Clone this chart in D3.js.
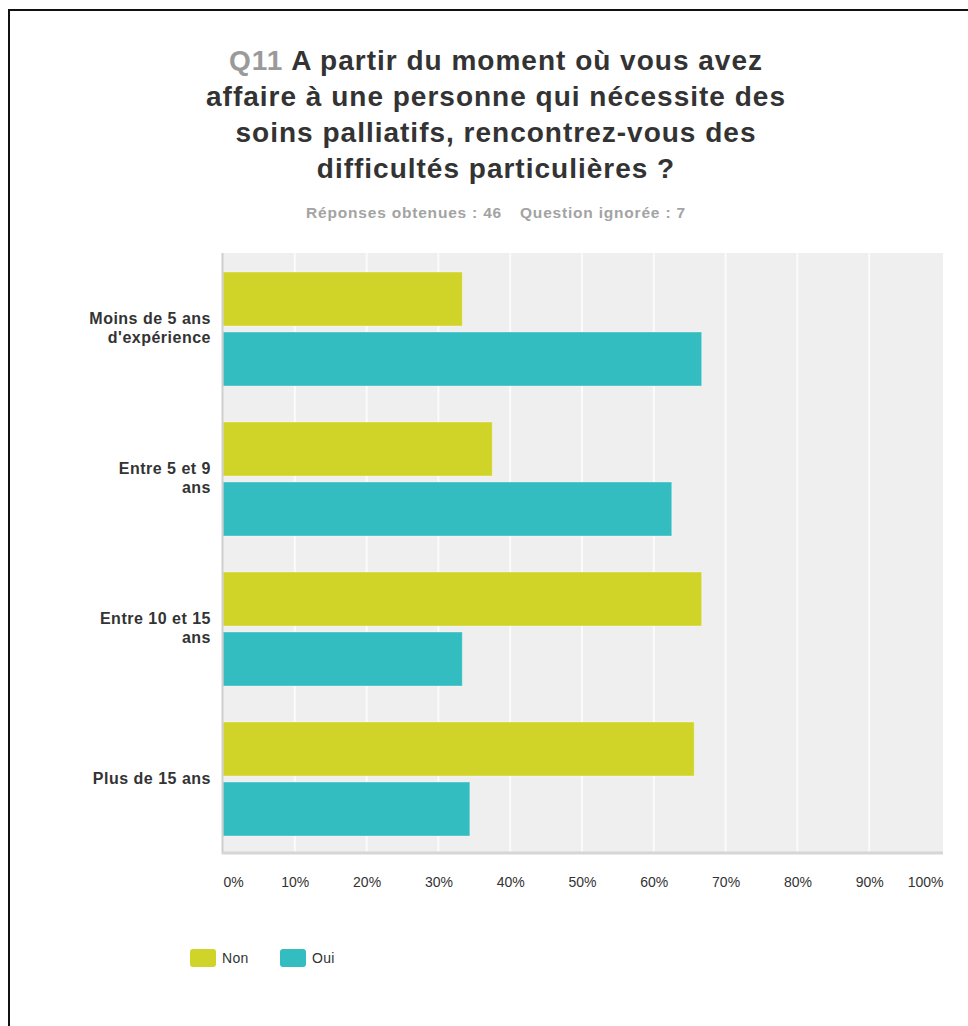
<!DOCTYPE html>
<html>
<head>
<meta charset="utf-8">
<script src="https://cdn.jsdelivr.net/npm/d3@7"></script>
<style>
  html, body { margin: 0; padding: 0; background: #fff; }
  svg { display: block; font-family: "Liberation Sans", Arial, sans-serif; }
</style>
</head>
<body>
<svg id="chart" width="968" height="1026"></svg>
<script>
// Survey results: difficulties met with palliative-care patients, by experience
const categories = [
  ["Moins de 5 ans", "d'expérience"],
  ["Entre 5 et 9", "ans"],
  ["Entre 10 et 15", "ans"],
  ["Plus de 15 ans"]
];
const seriesNames = ["Non", "Oui"];
const nonValues = [33.33, 37.5, 66.67, 65.63];
const ouiValues = [66.67, 62.5, 33.33, 34.38];
const tickValues = [0, 10, 20, 30, 40, 50, 60, 70, 80, 90, 100];
const titleLines = [
  ["Q11", "A partir du moment où vous avez"],
  [null, "affaire à une personne qui nécessite des"],
  [null, "soins palliatifs, rencontrez-vous des"],
  [null, "difficultés particulières ?"]
];
const subtitleParts = ["Réponses obtenues : 46", "Question ignorée : 7"];

const colors = { Non: "#d0d428", Oui: "#33bdc0" };
const FONT = "'Liberation Sans', Arial, sans-serif";

const svg = d3.select("#chart");

// Outer frame
svg.append("rect")
  .attr("x", 9).attr("y", 10)
  .attr("width", 1000).attr("height", 1100)
  .attr("fill", "none").attr("stroke", "#111").attr("stroke-width", 2);

// Title
const title = svg.append("text")
  .attr("text-anchor", "middle")
  .attr("font-family", FONT)
  .attr("font-size", 28)
  .attr("letter-spacing", 1.0)
  .attr("font-weight", "bold")
  .attr("fill", "#333");
titleLines.forEach((ln, i) => {
  const t = title.append("tspan").attr("x", 496).attr("y", 70 + i * 36);
  if (ln[0]) {
    t.append("tspan").attr("fill", "#9a9a9a").text(ln[0] + " ");
  }
  t.append("tspan").text(ln[1]);
});

// Subtitle
const sub = svg.append("text")
  .attr("x", 496).attr("y", 218)
  .attr("text-anchor", "middle")
  .attr("font-family", FONT)
  .attr("font-size", 15.5)
  .attr("letter-spacing", 0.8)
  .attr("font-weight", "bold")
  .attr("fill", "#a3a3a3");
sub.append("tspan").text(subtitleParts[0]);
sub.append("tspan").attr("dx", 18).text(subtitleParts[1]);

// Scales
const x = d3.scaleLinear().domain([0, 100]).range([223, 941]);
const y = d3.scaleBand().domain(d3.range(categories.length)).range([253, 853]);
const yInner = d3.scaleBand().domain(seriesNames).range([19, 133]).paddingInner(0.1);

// Plot background
svg.append("rect")
  .attr("x", x(0)).attr("y", 253)
  .attr("width", x(100) - x(0) + 2).attr("height", 600)
  .attr("fill", "#efefef");

// Vertical gridlines
svg.append("g")
  .selectAll("line")
  .data(tickValues.slice(1, -1))
  .join("line")
  .attr("x1", d => x(d)).attr("x2", d => x(d))
  .attr("y1", 253).attr("y2", 853)
  .attr("stroke", "#fbfbfb").attr("stroke-width", 2);

// Bars
const rows = categories.map((c, i) => ({ i, Non: nonValues[i], Oui: ouiValues[i] }));
const groups = svg.append("g")
  .selectAll("g")
  .data(rows)
  .join("g")
  .attr("transform", d => `translate(0,${y(d.i)})`);
groups.selectAll("rect")
  .data(d => seriesNames.map(s => ({ s, v: d[s] })))
  .join("rect")
  .attr("x", x(0))
  .attr("y", d => yInner(d.s))
  .attr("width", d => x(d.v) - x(0))
  .attr("height", yInner.bandwidth())
  .attr("fill", d => colors[d.s])
  .attr("stroke", "rgba(255,255,255,0.35)")
  .attr("stroke-width", 1);

// Left axis line
svg.append("line")
  .attr("x1", x(0) - 0.5).attr("x2", x(0) - 0.5)
  .attr("y1", 253).attr("y2", 854)
  .attr("stroke", "#cfcfcf").attr("stroke-width", 2);

// Bottom axis
const xAxis = svg.append("g")
  .attr("transform", "translate(0,853)")
  .call(d3.axisBottom(x).tickValues(tickValues).tickFormat(d => d + "%").tickSize(0).tickPadding(24));
xAxis.select(".domain")
  .attr("stroke", "#d6d6d6").attr("stroke-width", 3)
  .attr("d", `M${x(0) - 1},0H${x(100) + 2}`);
xAxis.selectAll("text")
  .attr("font-size", 14)
  .attr("font-family", FONT)
  .attr("fill", "#333")
  .attr("text-anchor", d => d === 0 ? "start" : d === 100 ? "end" : "middle")
  .attr("dx", d => d === 100 ? 2 : 0);

// Left axis (category labels)
const yAxis = svg.append("g")
  .attr("transform", `translate(${x(0)},0)`)
  .call(d3.axisLeft(y).tickSize(0).tickFormat(() => ""));
yAxis.select(".domain").remove();
yAxis.selectAll(".tick").each(function (d) {
  const lines = categories[d];
  const t = d3.select(this).select("text")
    .attr("x", -12)
    .attr("dy", null)
    .attr("text-anchor", "end")
    .attr("font-size", 16)
    .attr("letter-spacing", 0.5)
    .attr("font-weight", "bold")
    .attr("font-family", FONT)
    .attr("fill", "#333");
  const lh = 19;
  const y0 = y.bandwidth() / 2 - (lines.length - 1) * lh / 2 + 5.5;
  lines.forEach((ln, k) => {
    t.append("tspan").attr("x", -12).attr("y", y0 + k * lh - y.bandwidth() / 2).text(ln);
  });
});

// Legend
const legend = svg.append("g").attr("transform", "translate(190,949)");
const items = legend.selectAll("g")
  .data(seriesNames)
  .join("g")
  .attr("transform", (d, i) => `translate(${i * 90},0)`);
items.append("rect")
  .attr("width", 26).attr("height", 18).attr("rx", 3)
  .attr("fill", d => colors[d]);
items.append("text")
  .attr("x", 32).attr("y", 14)
  .attr("font-family", FONT)
  .attr("font-size", 14)
  .attr("letter-spacing", 0.3)
  .attr("fill", "#333")
  .text(d => d);
</script>
</body>
</html>
